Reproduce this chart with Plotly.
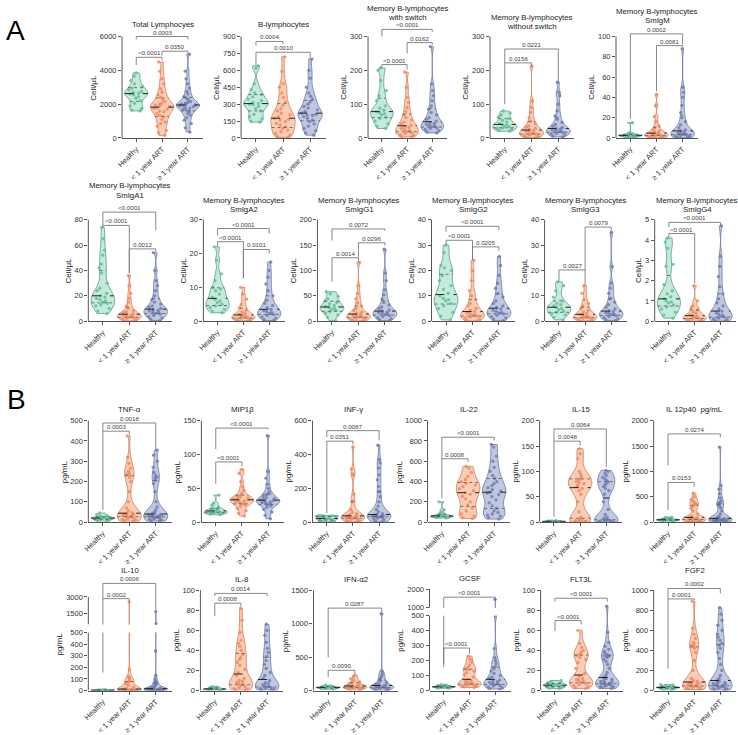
import numpy as np
import plotly.graph_objects as go

GROUPS = ["Healthy", "&lt; 1 year ART", "≥ 1 year ART"]

# ---------------- data ----------------
# Panel A (cells/µL)
tl_h = [1600,1650,1750,1900,2050,2200,2350,2450,2550,2600,2650,2700,2750,2850,2950,3050,3200,3400,3650,3850]
tl_l = [150,300,450,700,850,950,1100,1250,1350,1450,1550,1600,1700,1750,1800,1850,1900,1950,2000,2050,2150,2250,2400,2550,2700,2900,3200,3500,3950,4500]
tl_g = [350,600,850,1050,1200,1350,1450,1550,1650,1700,1750,1800,1850,1900,1930,1950,1980,2000,2050,2100,2150,2250,2350,2450,2600,2750,2950,3200,3500,3950,4950]

bl_h = [140,150,170,190,210,240,260,280,295,300,305,315,330,345,365,385,400,430,480,620,640]
bl_l = [5,15,25,40,55,70,85,100,115,130,145,160,165,175,190,205,220,240,260,290,320,360,400,450,480,590,720]
bl_g = [25,45,65,85,105,125,145,160,175,190,200,205,210,220,235,250,265,280,300,320,345,370,400,450,530,600,700]

msw_h = [28,35,42,50,58,62,68,72,75,78,82,88,95,110,125,140,170,200,207]
msw_l = [3,5,8,10,13,16,19,22,25,28,31,34,38,42,47,53,60,68,78,90,105,120,150,195]
msw_g = [15,18,22,25,28,30,33,35,38,40,43,46,50,55,60,68,75,85,95,110,125,140,160,270]

nsw_h = [20,22,25,28,30,33,36,38,40,43,47,52,57,62,68,74,80]
nsw_l = [1,3,5,7,9,11,13,15,18,20,22,25,28,32,36,42,50,60,75,90,110,213]
nsw_g = [3,6,9,12,14,16,18,20,22,24,26,28,31,35,40,46,55,65,80,100,125,135,165]

igm_h = [0.5,1,1.5,2,2,2.5,2.5,3,3,3.5,4,5,15]
igm_l = [0.2,0.5,1,1.5,2,2.5,3,3.5,4,4.5,5,6,7,8,10,12,16,21,32,43]
igm_g = [0.3,0.8,1.5,2,2.5,3,3.5,4,4.5,5,6,7,8,10,13,16,20,25,32,40,45,50,88]

iga1_h = [6,8,10,12,13,14,15,16,17,18,19,20,22,24,26,30,38,42,45,52,56,65,74]
iga1_l = [0.3,0.8,1.2,1.8,2.3,2.8,3.3,3.8,4.3,4.8,5,5.5,6,6.8,7.5,8.5,10,12,15,18,22,28,36]
iga1_g = [0.5,1.5,2.5,3.5,4.5,5.5,6.2,7,7.5,8,8.5,9,10,11,12,13.5,15,17,20,24,28,32,40,54]

iga2_h = [2.5,3,3.5,4,4.5,5,5.5,6,6.5,7,8,9,9.5,10,12,14,18,22]
iga2_l = [0.1,0.3,0.5,0.7,0.9,1.1,1.3,1.5,1.7,2,2.3,2.7,3.2,4,5,6.5,8,10]
iga2_g = [0.2,0.5,0.9,1.3,1.7,2,2.3,2.5,2.8,3.1,3.5,4,4.6,5.3,6.2,7.5,9,11,13,15,17.5]

igg1_h = [1,8,12,16,19,21,23,25,27,29,31,34,37,40,44,49,54,58]
igg1_l = [0.5,1.5,3,4.5,6,7.5,9,10,11,12.5,14,16,18,21,25,30,36,44,55,70,116]
igg1_g = [1,3,5,7,9,11,13,15,16,17,18,20,22,25,28,32,37,44,52,62,80,95,142]

igg2_h = [0.5,2,3.5,5,6,7,8,8.5,9,10,11,12.5,14,16,18,20,21,22,27,30]
igg2_l = [0.1,0.4,0.8,1.2,1.6,2,2.3,2.6,3,3.4,3.8,4.3,5,6,7,8.5,10,12,16,20,24]
igg2_g = [0.2,0.8,1.3,1.8,2.3,2.8,3.2,3.5,3.9,4.3,4.8,5.4,6,7,8,9.5,11,13,15,18,22,25.5]

igg3_h = [0.5,1.5,2.5,3,3.5,4,4.5,5,5.5,6,6.5,7,8,9.5,12,14,15.5]
igg3_l = [0.1,0.3,0.6,0.9,1.2,1.5,1.8,2,2.3,2.7,3.1,3.6,4.2,5,6,7,8.5,11,14]
igg3_g = [0.2,0.6,1,1.4,1.8,2.2,2.6,2.9,3.1,3.4,3.8,4.2,4.8,5.5,6.5,7.5,9,11,13,15,21.5,35]

igg4_h = [0.15,0.3,0.45,0.6,0.7,0.8,0.9,0.95,1,1.1,1.2,1.35,1.5,1.8,2.7,2.8,3.6,3.9,4.1]
igg4_l = [0,0.03,0.06,0.1,0.13,0.16,0.2,0.23,0.27,0.32,0.38,0.45,0.55,0.65,0.75,1,1.75]
igg4_g = [0,0.03,0.07,0.11,0.15,0.2,0.25,0.3,0.35,0.42,0.5,0.6,0.75,0.9,1.1,1.35,1.7,2.2,2.7,3.2,4.7]

# Panel B (pg/mL)
tnf_h = [5,8,11,13,15,17,19,20,21,23,25,28,32,38,45]
tnf_l = [5,8,11,14,17,20,23,26,29,32,34,36,38,40,42,46,55,70,100,150,200,220,232,236,240,250,265,290,320,425]
tnf_g = [5,8,11,14,17,20,22,24,26,28,30,32,34,35,36,38,40,44,50,60,75,100,150,190,205,215,222,230,245,270,300,330,355]

mip_h = [11,12,13,13.5,14,15,15.5,16,17,18,19,20,22,25,28,40]
mip_l = [9,13,17,20,23,25,27,28,29,30,31,32,33,34,35,36,37,38,40,43,47,52,60,72,78]
mip_g = [5,10,15,19,22,24,26,27,28,29,30,31,32,33,34,35,36,38,40,42,45,50,56,65,75,128]

ifng_h = [2,5,7,10,15,18,20,22,25,28,32,35,37,38,40]
ifng_l = [1,5,9,13,17,20,23,26,28,30,32,34,37,40,44,50,60,75,120,125,165,280,285,315,445]
ifng_g = [1,8,15,20,24,28,30,32,34,35,36,38,40,42,45,50,60,75,95,120,150,180,210,250,280,320,350,370,455]

il22_h = [40,45,50,52,55,58,60,63,67,72,80,95,120,200]
il22_l = [35,45,60,80,110,140,170,200,230,255,275,290,310,330,350,365,380,400,420,450,490,530,550]
il22_g = [30,45,60,70,80,95,110,135,160,190,220,250,270,285,295,305,320,340,360,380,400,430,460,500,540,600,650,740,765]

il15_h = [0.5,0.8,1,1.2,1.4,1.5,1.7,2,2.3,2.6,3]
il15_l = [0.5,1,2,3,4,5,7,10,20,40,55,62,66,70,73,76,78,80,83,86,90,95,100,125,135,145]
il15_g = [0.3,0.6,1,1.5,2,3,4,5,6,8,10,15,25,40,55,62,66,70,73,76,79,82,85,88,92,96,100,102]

il12_h = [20,28,33,38,42,45,48,52,58,65,75,90,100]
il12_l = [10,15,20,25,30,40,50,55,60,65,70,75,85,100,120,160,220,270,310,340,360,380,410,450,500,570]
il12_g = [5,10,15,20,25,30,35,40,45,50,52,55,58,60,65,70,80,95,120,160,220,280,320,350,370,390,420,480,560,650,720,1480]

il10_h = [1,1.5,2,2.5,3,3,3.5,4,5,6,8]
il10_l = [1,1.5,2,2.5,3,4,5,6,7,8,9,10,12,15,20,30,45,60,70,80,90,100,110,120,180,2550]
il10_g = [1,2,3,4,5,6,7,8,9,10,11,12,14,16,18,20,25,30,40,50,60,70,80,100,130,340,560,1680]

il8_h = [0.5,0.8,1,1.2,1.4,1.6,1.8,2.1,2.5,3,3.5,4]
il8_l = [0.5,1,1.5,2,3,4,5,6,7,8,9,10,12,15,18,21,25,28,31,33,36,40,44,47,50,58,70,82]
il8_g = [0.5,1,1.5,2,2.5,3,3.5,4,5,6,7,8,10,12,15,18,22,26,30,34,38,42,48,55,60,66]

ifna_h = [20,28,33,38,42,45,48,52,57,63,70,80]
ifna_l = [5,15,25,32,38,44,50,55,60,65,72,80,90,100,115,130,150,175,200,230]
ifna_g = [3,10,18,26,33,40,46,52,57,62,68,75,85,95,110,125,145,170,195,220,250,285,1150]

gcsf_h = [15,18,20,22,24,25,26,28,30,33,36,40]
gcsf_l = [20,25,28,32,36,40,45,50,55,60,65,75,90,105,120,130,140,145,155,170,190,210,230]
gcsf_g = [10,15,20,25,30,35,40,45,50,55,60,65,70,80,90,100,115,130,145,160,180,200,220,280,500,1450]

flt_h = [2,2.5,3,3.5,4,4.5,5,5.2,5.5,6,6.5,7,7.5,8,9,10]
flt_l = [2,3,4,5,6,7,8,9,10,11,12,14,17,22,28,31,33,35,36,38,40,43,47,60]
flt_g = [2,3,3.5,4,4.5,5,5.5,6,6.5,7,7.5,8,8.5,9,10,11,12,13,15,18,22,26,29,31,33,34,35,36,37,39,41,44,48,58,84]

fgf_h = [5,12,18,22,26,28,30,32,35,38,42,47,53,60]
fgf_l = [10,15,20,25,30,35,40,45,50,55,60,65,70,75,80,90,100,120,200,300,380,420,440,450,460,480,520,560,620,890]
fgf_g = [5,10,15,20,25,30,35,40,45,50,55,60,65,70,75,80,90,100,120,150,200,260,320,380,420,450,470,500,530,560,600,650,700,760,825]

# ---------------- styling ----------------
W, H = 738, 735
FONT = "Liberation Sans, Arial, sans-serif"
FILL = ["#c3eadb", "#f9ccb4", "#c0c8e0"]
EDGE = ["#5a9e84", "#cf7f5c", "#6c79a3"]
PT = ["#5fbf98", "#ee8a60", "#6e7db0"]
AX = "#555555"
BR = "#7a7a7a"
EXT = 22       # px of room above the top tick for brackets
VW = 0.9       # violin width (category units)
BWF = 0.55     # bandwidth factor relative to Silverman's rule
XR = [-0.55, 2.6]
TFS = 7.8      # title font size
BFS = 6.2      # bracket label font size

CU = "Cell/μL"
PG = "pg/mL"

panels = [
    dict(t=[("Total Lymphocyes", 21)], d=(tl_h, tl_l, tl_g), x=(117, 199), y=(33, 136), top=6000, dt=2000, yl=CU,
         br=[(0, 2, 6000, 5830, 5830, "0.0003"), (0, 1, 4770, 4310, 4600, "&lt;0.0001"), (1, 2, 5130, 4870, 5000, "0.0350")]),
    dict(t=[("B-lymphocytes", 21)], d=(bl_h, bl_l, bl_g), x=(237, 323), y=(33, 136), top=900, dt=150, yl=CU,
         br=[(0, 1, 856, 821, 835, "0.0004"), (0, 2, 760, 647, 708, "0.0010")]),
    dict(t=[("Memory B-lymphocytes", 4.5), ("with switch", 14)], d=(msw_h, msw_l, msw_g), x=(365, 445), y=(33, 136), top=300, dt=100, yl=CU,
         br=[(0, 2, 321, 300, 314, "&lt;0.0001"), (1, 2, 282, 250, 275, "0.0162"), (0, 1, 217, 207, 202, "&lt;0.0001")]),
    dict(t=[("Memory B-lymphocytes", 13.5), ("without switch", 23)], d=(nsw_h, nsw_l, nsw_g), x=(488, 573), y=(33, 136), top=300, dt=100, yl=CU,
         br=[(0, 2, 263, 222, 165, "0.0221"), (0, 1, 222, 100, 213, "0.0156")]),
    dict(t=[("Memory B-lymphocytes", 7.5), ("SmIgM", 17)], d=(igm_h, igm_l, igm_g), x=(615, 698), y=(33, 136), top=100, dt=20, yl=CU,
         br=[(0, 2, 102.6, 19, 92, "0.0002"), (1, 2, 91, 46, 90, "0.0081")]),

    dict(t=[("Memory B-lymphocytes", 184.5), ("SmIgA1", 194)], d=(iga1_h, iga1_l, iga1_g), x=(83, 167), y=(219, 322), top=80, dt=20, yl=CU,
         br=[(0, 2, 86, 75.5, 71.6, "&lt;0.0001"), (0, 1, 75.5, 74, 37.8, "&lt;0.0001"), (1, 2, 57, 38, 54.7, "0.0012")]),
    dict(t=[("Memory B-lymphocytes", 199), ("SmIgA2", 208.5)], d=(iga2_h, iga2_l, iga2_g), x=(199, 281), y=(219, 322), top=30, dt=10, yl=CU,
         br=[(0, 2, 27.4, 25.4, 25.9, "&lt;0.0001"), (0, 1, 23.5, 22.2, 12.7, "&lt;0.0001"), (1, 2, 21.2, 12.7, 20, "0.0101")]),
    dict(t=[("Memory B-lymphocytes", 199), ("SmIgG1", 208.5)], d=(igg1_h, igg1_l, igg1_g), x=(314, 398), y=(219, 322), top=200, dt=50, yl=CU,
         br=[(0, 2, 181.8, 159, 178, "0.0072"), (1, 2, 154.5, 126.6, 149, "0.0296"), (0, 1, 125, 78, 117, "0.0014")]),
    dict(t=[("Memory B-lymphocytes", 199), ("SmIgG2", 208.5)], d=(igg2_h, igg2_l, igg2_g), x=(429, 513), y=(219, 322), top=40, dt=10, yl=CU,
         br=[(0, 2, 37.4, 35.2, 35.8, "&lt;0.0001"), (0, 1, 31.9, 30, 24.1, "&lt;0.0001"), (1, 2, 29.3, 24.1, 27.8, "0.0205")]),
    dict(t=[("Memory B-lymphocytes", 199), ("SmIgG3", 208.5)], d=(igg3_h, igg3_l, igg3_g), x=(543, 626), y=(219, 322), top=40, dt=10, yl=CU,
         br=[(1, 2, 37.1, 20.2, 35.6, "0.0079"), (0, 1, 20.2, 15.6, 14.3, "0.0027")]),
    dict(t=[("Memory B-lymphocytes", 199), ("SmIgG4", 208.5)], d=(igg4_h, igg4_l, igg4_g), x=(654, 736), y=(219, 322), top=5, dt=1, yl=CU,
         tx=697,
         br=[(0, 2, 4.87, 4.64, 4.72, "&lt;0.0001"), (0, 1, 4.32, 4.1, 1.87, "&lt;0.0001")]),

    dict(t=[("TNF-α", 412)], d=(tnf_h, tnf_l, tnf_g), x=(83, 167), y=(423, 526), top=500, dt=100, yl=PG,
         br=[(0, 2, 488.6, 448, 353, "0.0018"), (0, 1, 448, 60, 431, "0.0003")]),
    dict(t=[("MIP1β", 412)], d=(mip_h, mip_l, mip_g), x=(197, 280), y=(423, 526), top=150, dt=50, yl=PG,
         br=[(0, 2, 139, 108, 137, "&lt;0.0001"), (0, 1, 89, 57, 82.5, "&lt;0.0001")]),
    dict(t=[("INF-γ", 412)], d=(ifng_h, ifng_l, ifng_g), x=(309, 392), y=(423, 526), top=600, dt=200, yl=PG,
         br=[(0, 2, 541, 502, 483, "0.0087"), (0, 1, 479, 53, 459, "0.0351")]),
    dict(t=[("IL-22", 412)], d=(il22_h, il22_l, il22_g), x=(425, 508), y=(423, 526), top=1000, dt=200, yl=PG,
         br=[(0, 2, 837, 625, 805, "&lt;0.0001"), (0, 1, 625, 234, 593, "0.0008")]),
    dict(t=[("IL-15", 412)], d=(il15_h, il15_l, il15_g), x=(538, 621), y=(423, 526), top=200, dt=50, yl=PG,
         br=[(0, 2, 183.7, 160, 109, "0.0064"), (0, 1, 159.6, 11, 151, "0.0048")]),
    dict(t=[("IL 12p40  pg/mL", 412)], d=(il12_h, il12_l, il12_g), x=(653, 736), y=(423, 526), top=2000, dt=500, yl=PG,
         br=[(0, 2, 1739, 1120, 1674, "0.0274"), (0, 1, 782, 241, 697, "0.0153")]),

    dict(t=[("IL-10", 575)], d=(il10_h, il10_l, il10_g), x=(83, 167), y=(638, 697), top=500, dt=100, yl=PG,
         up=dict(lo=500, hi=3000, ybot=630, ytop=602, ticks=[1500, 3000]),
         br=[(0, 2, 4230, 2850, 1830, "0.0006"), (0, 1, 2850, 155, 2550, "0.0002")]),
    dict(t=[("IL-8", 584)], d=(il8_h, il8_l, il8_g), x=(196, 279), y=(595, 697), top=100, dt=20, yl=PG,
         br=[(0, 2, 96.7, 94, 94, "0.0014"), (0, 1, 87, 74, 83.7, "0.0008")]),
    dict(t=[("IFN-α2", 584)], d=(ifna_h, ifna_l, ifna_g), x=(310, 395), y=(595, 697), top=1500, dt=500, yl=PG,
         br=[(0, 2, 1231, 498, 1158, "0.0287"), (0, 1, 303, 205, 254, "0.0090")]),
    dict(t=[("GCSF", 583)], d=(gcsf_h, gcsf_l, gcsf_g), x=(427, 509), y=(621, 697), top=500, dt=100, yl=PG,
         up=dict(lo=1000, hi=2000, ybot=613, ytop=594, ticks=[1000, 2000]),
         br=[(0, 2, 1569, 179, 1431, "&lt;0.0001"), (0, 1, 284, 157, 245, "&lt;0.0001")]),
    dict(t=[("FLT3L", 584)], d=(flt_h, flt_l, flt_g), x=(539, 622), y=(595, 697), top=100, dt=20, yl=PG,
         br=[(0, 2, 91.9, 88.6, 88.6, "&lt;0.0001"), (0, 1, 69.7, 59.3, 65.8, "&lt;0.0001")]),
    dict(t=[("FGF2", 575)], d=(fgf_h, fgf_l, fgf_g), x=(653, 736), y=(595, 697), top=1000, dt=200, yl=PG,
         br=[(0, 2, 1016, 912, 967, "0.0002"), (0, 1, 912, 218, 902, "0.0001")]),
]


def bandwidth(vals):
    v = np.asarray(vals, float)
    q1, q3 = np.percentile(v, [25, 75])
    sd = v.std(ddof=1)
    span = v.max() - v.min()
    return max(BWF * 1.059 * min(sd, (q3 - q1) / 1.349) * v.size ** -0.2, span / 100)


def kde_halfwidth(vals, ys, half, bw):
    v = np.asarray(vals, float)
    def dens(t):
        t = np.asarray(t, float)
        return np.exp(-0.5 * ((t[:, None] - v[None, :]) / bw) ** 2).sum(1)
    grid = np.linspace(v.min(), v.max(), 800)
    return dens(ys) / dens(grid).max() * half


fig = go.Figure()
lay = {}
shapes = []
annots = []
counter = [0]


def new_axes():
    counter[0] += 1
    s = "" if counter[0] == 1 else str(counter[0])
    return "x" + s, "y" + s, "xaxis" + s, "yaxis" + s


def fmt(v):
    return f"{v:g}"


for p in panels:
    xl, xr = p["x"]
    ytop, y0 = p["y"]
    xdom = [xl / W, xr / W]
    segs = [dict(lo=0, hi=p["top"], ybot=y0, ytop=ytop,
                 ticks=list(np.arange(0, p["top"] + p["dt"] / 2, p["dt"])),
                 ext=0 if "up" in p else EXT, xshow=True)]
    if "up" in p:
        u = p["up"]
        segs.append(dict(lo=u["lo"], hi=u["hi"], ybot=u["ybot"], ytop=u["ytop"], ticks=u["ticks"], ext=EXT, xshow=False))

    bws = [bandwidth(v) for v in p["d"]]
    maxlab = 0
    for sg in segs:
        xn, yn, xk, yk = new_axes()
        hi_r = sg["hi"] + sg["ext"] * (sg["hi"] - sg["lo"]) / (sg["ybot"] - sg["ytop"])
        ydom = [1 - sg["ybot"] / H, 1 - (sg["ytop"] - sg["ext"]) / H]
        labs = [fmt(v) for v in sg["ticks"]]
        maxlab = max(maxlab, max(len(s) for s in labs))
        lay[xk] = dict(domain=xdom, range=XR, anchor=yn, showgrid=False, zeroline=False,
                       showline=sg["xshow"], linecolor=AX, linewidth=1,
                       ticks="outside" if sg["xshow"] else "", ticklen=3, tickcolor=AX, tickwidth=1,
                       tickmode="array", tickvals=[0, 1, 2], ticktext=GROUPS, tickangle=-45,
                       showticklabels=sg["xshow"], tickfont=dict(size=7.5, color="#333", family=FONT),
                       fixedrange=True)
        lay[yk] = dict(domain=ydom, range=[sg["lo"], hi_r], anchor=xn, showgrid=False, zeroline=False,
                       showline=False, ticks="outside", ticklen=3, tickcolor=AX, tickwidth=1,
                       tickmode="array", tickvals=sg["ticks"], ticktext=labs,
                       tickfont=dict(size=7.5, color="#333", family=FONT), fixedrange=True)
        shapes.append(dict(type="line", xref=xn + " domain", yref=yn, x0=0, x1=0,
                           y0=sg["lo"], y1=sg["hi"], line=dict(color=AX, width=1)))

        for i, vals in enumerate(p["d"]):
            fig.add_trace(go.Violin(
                x=[i] * len(vals), y=vals, xaxis=xn, yaxis=yn, width=VW, spanmode="hard",
                bandwidth=bws[i], scalemode="width", fillcolor=FILL[i],
                line=dict(color=EDGE[i], width=0.8),
                points="all", pointpos=0, jitter=0.75,
                marker=dict(size=3.3, color=PT[i], opacity=0.85, line=dict(width=0)),
                box_visible=False, meanline_visible=False, showlegend=False, hoverinfo="skip"))
        for i, vals in enumerate(p["d"]):
            q1, med, q3 = np.percentile(vals, [25, 50, 75])
            hw = kde_halfwidth(vals, [q1, med, q3], VW / 2, bws[i])
            for yv, h, dash, col, lw in [(med, hw[1], "dash", "#222", 1.0),
                                         (q1, hw[0], "dot", "#555", 0.8),
                                         (q3, hw[2], "dot", "#555", 0.8)]:
                fig.add_trace(go.Scatter(x=[i - h, i + h], y=[yv, yv], xaxis=xn, yaxis=yn,
                                         mode="lines", line=dict(color=col, width=lw, dash=dash),
                                         showlegend=False, hoverinfo="skip"))
        for (a, b, yb, ya, yc, lab) in p["br"]:
            fig.add_trace(go.Scatter(x=[a, a, b, b], y=[ya, yb, yb, yc], xaxis=xn, yaxis=yn,
                                     mode="lines", line=dict(color=BR, width=0.9),
                                     showlegend=False, hoverinfo="skip"))
            if sg["lo"] <= yb <= hi_r:
                annots.append(dict(x=(a + b) / 2, y=yb, xref=xn, yref=yn, text=lab, showarrow=False,
                                   yanchor="bottom", yshift=-1, font=dict(size=BFS, color="#444", family=FONT)))

    cx = p.get("tx", (xl + xr) / 2) / W
    for txt, ty in p["t"]:
        annots.append(dict(x=cx, y=1 - ty / H, xref="paper", yref="paper", text=txt, showarrow=False,
                           xanchor="center", yanchor="middle", font=dict(size=TFS, color="#222", family=FONT)))
    top_px = segs[-1]["ytop"]
    ylx = (xl - (12 + 4.2 * maxlab)) / W
    annots.append(dict(x=ylx, y=1 - (top_px + y0) / 2 / H, xref="paper", yref="paper", text=p["yl"],
                       showarrow=False, textangle=-90, xanchor="center", yanchor="middle",
                       font=dict(size=8, color="#222", family=FONT)))

annots.append(dict(x=10 / W, y=1 - 27 / H, xref="paper", yref="paper", text="A", showarrow=False,
                   xanchor="center", yanchor="middle", font=dict(size=28, color="#000", family=FONT)))
annots.append(dict(x=11 / W, y=1 - 402 / H, xref="paper", yref="paper", text="B", showarrow=False,
                   xanchor="center", yanchor="middle", font=dict(size=28, color="#000", family=FONT)))

fig.update_layout(width=W, height=H, margin=dict(l=0, r=0, t=0, b=0), autosize=False,
                  paper_bgcolor="white", plot_bgcolor="rgba(0,0,0,0)", violinmode="overlay",
                  showlegend=False, shapes=shapes, annotations=annots, font=dict(family=FONT),
                  **lay)
fig.write_html("out.html")
